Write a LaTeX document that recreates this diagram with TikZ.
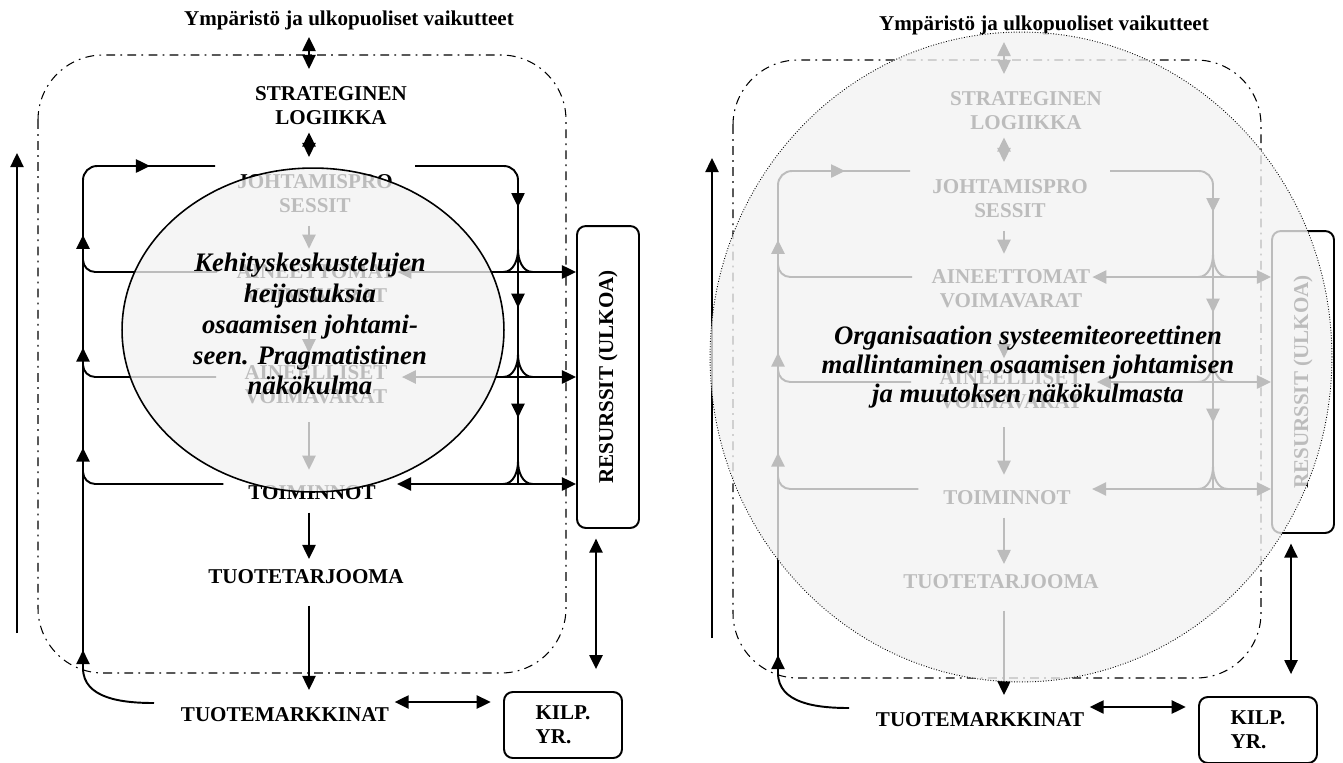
\documentclass[tikz,border=0pt]{standalone}
\usepackage{fontspec}
\setmainfont{Liberation Serif}
\usetikzlibrary{arrows.meta,decorations.markings,shapes.geometric}

\begin{document}
\begin{tikzpicture}[x=0.02cm,y=-0.02cm,
        nimi/.style={font=\bfseries\fontsize{12}{13.7}\selectfont,align=center,inner sep=0pt},
        viiva/.style={line width=1.1pt},
        nuoli/.style={viiva,-{Triangle[length=8pt,width=7.5pt]}},
        kaksinuoli/.style={viiva,{Triangle[length=8pt,width=7.5pt]}-{Triangle[length=8pt,width=7.5pt]}},
        keskinuoli/.style={postaction={decorate,decoration={markings,mark=at position #1 with {\arrow{Triangle[length=8pt,width=7.5pt]}}}}},
        katko/.style={line width=0.6pt,dash pattern=on 5pt off 3pt on 1pt off 3pt},
        laatikko/.style={draw,line width=1.1pt,rounded corners=5pt},
        soikio/.style={ellipse,draw,fill=black!5,fill opacity=0.78,inner sep=0pt},
        soikioteksti/.style={font=\bfseries\itshape\fontsize{15.2}{#1}\selectfont,align=center,inner sep=0pt}]
    \useasboundingbox (0,0) rectangle (1343,762);

    \foreach \dx/\dy/\pnl in {0/0/L,695/5/R}{
    \begin{scope}[shift={(\dx,\dy)},name prefix=\pnl-]
        %Apupisteet
        \coordinate (akseli) at (309,0);
        \coordinate (h1) at (518,272);
        \coordinate (h2) at (518,377);
        \coordinate (h3) at (518,484);
        \coordinate (sv) at (83,166);
        \coordinate (so) at (518,166);
        \coordinate (yla) at (215,166);
        \coordinate (ylo) at (415,166);
        \coordinate (v1) at (83,272);
        \coordinate (v2) at (83,377);
        \coordinate (v3) at (83,484);
        \coordinate (v4) at (83,668);
        \coordinate (ala) at (154,703);
        \coordinate (kk) at (0,702);
        \coordinate (rk) at (596,0);
        \coordinate (pa) at (17,633);
        \coordinate (py) at (17,153);

        %Tasot
        \node[nimi] (ymp) at (349,20) {Ympäristö ja ulkopuoliset vaikutteet};
        \node[nimi] (strat) at (331,106) {STRATEGINEN\\LOGIIKKA};
        \node[nimi] (johto) at (315,194) {JOHTAMISPRO\\SESSIT};
        \node[nimi] (aineet) at (316,284) {AINEETTOMAT\\VOIMAVARAT};
        \node[nimi] (aineel) at (316,385) {AINEELLISET\\VOIMAVARAT};
        \node[nimi] (toim) at (312,493) {TOIMINNOT};
        \node[nimi] (tarj) at (306,577) {TUOTETARJOOMA};
        \node[nimi] (markk) at (285,715) {TUOTEMARKKINAT};
        \node[nimi,laatikko,minimum width=1.24cm,minimum height=6.04cm] (res) at (608,377) {\rotatebox{90}{RESURSSIT (ULKOA)}};
        \node[nimi,laatikko,align=left,minimum width=2.36cm,minimum height=1.32cm] (kilp) at (563,725) {KILP.\\YR.};

        %Keskiakseli
        \draw[kaksinuoli,shorten <=4pt,shorten >=10pt] (ymp.south -| akseli) -- (strat.north -| akseli);
        \draw[kaksinuoli,shorten <=4pt,shorten >=10pt] (strat.south -| akseli) -- (johto.north -| akseli);
        \foreach \a/\b/\s/\t in {johto/aineet/7/9,aineet/aineel/15/7,aineel/toim/10/9,toim/tarj/7/6,tarj/markk/12/10}
        \draw[nuoli,shorten <=\s pt,shorten >=\t pt] (\a.south -| akseli) -- (\b.north -| akseli);

        %Resurssit
        \foreach \a/\h/\s in {aineet/h1/1,aineel/h2/8,toim/h3/12}
        \draw[kaksinuoli,shorten <=\s pt] (\a.east |- \h) -- (\h -| res.west);
        \foreach \h in {h1,h2,h3}{
            \draw[viiva] ([yshift=13pt]\h) to[out=-90,in=0] ([xshift=-8.5pt]\h);
            \draw[viiva] ([yshift=13pt]\h) to[out=-90,in=180] ([xshift=8.5pt]\h);
        }
        \draw[viiva,rounded corners=8pt,keskinuoli=0.68] (ylo) -- (so) -- (h1);
        \draw[viiva,keskinuoli=0.34] (h1) -- (h2);
        \draw[viiva,keskinuoli=0.38] (h2) -- (h3);

        %Palaute
        \draw[viiva,keskinuoli=0.39] (ala) to[out=180,in=-90] (v4) -- (v3);
        \draw[viiva,keskinuoli=0.34] (v3) -- (v2);
        \draw[viiva,keskinuoli=0.28] (v2) -- (v1);
        \draw[viiva,rounded corners=8pt,keskinuoli=0.16,keskinuoli=0.72] (v1) -- (sv) -- (yla);
        \foreach \a/\v/\s in {aineet/v1/11,aineel/v2/16,toim/v3/14}
        \draw[viiva,rounded corners=7pt,shorten <=\s pt] (\a.west |- \v) -| ([yshift=20pt]\v);

        %Kilpailijat
        \draw[kaksinuoli,shorten <=5.5pt,shorten >=12.5pt] (res.south -| rk) -- (kilp.north -| rk);
        \draw[kaksinuoli,shorten <=3pt,shorten >=7pt] (markk.east |- kk) -- (kilp.west |- kk);

        \draw[nuoli] (pa) -- (py);
        %Ympariston raja
        \draw[katko,rounded corners=37pt] (38,55) rectangle (566,673);
    \end{scope}
    }

    %Soikiot
    \node[soikio,line width=0.9pt,minimum width=7.64cm,minimum height=6.48cm] (L-soikio) at (313,330) {};
    \node[soikioteksti=17.6pt] (L-teksti) at (310,324)
        {Kehityskeskustelujen\\heijastuksia\\osaamisen johtami-\\seen. Pragmatistinen\\näkökulma};
    \node[soikio,densely dotted,line width=0.5pt,minimum width=12.44cm,minimum height=13cm] (R-soikio) at (1021,357) {};
    \node[soikioteksti=16.5pt] (R-teksti) at (1028,367)
        {Organisaation systeemiteoreettinen\\mallintaminen osaamisen johtamisen\\ja muutoksen näkökulmasta};
\end{tikzpicture}
\end{document}
